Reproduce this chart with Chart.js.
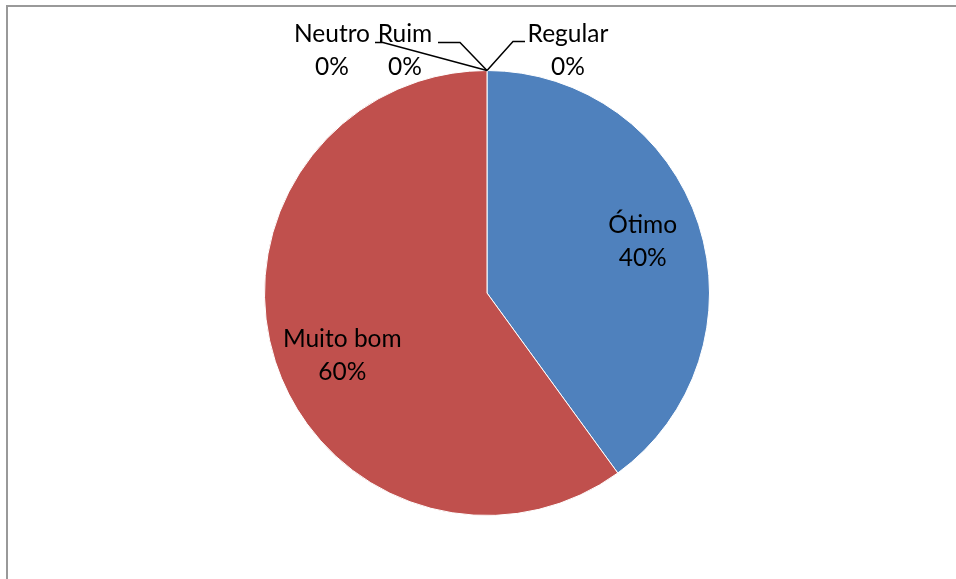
<!DOCTYPE html>
<html>
<head>
<meta charset="utf-8">
<script src="https://cdn.jsdelivr.net/npm/chart.js@4/dist/chart.umd.min.js"></script>
<style>
  html, body { margin: 0; padding: 0; background: #fff; }
  #wrap { position: relative; width: 956px; height: 579px; }
</style>
</head>
<body>
<div id="wrap"><canvas id="chart"></canvas></div>
<script>
// Avaliação dos participantes
const categories = ["Ótimo", "Muito bom", "Regular", "Ruim", "Neutro"];
const percentValues = [40, 60, 0, 0, 0];
const sliceColors = ["#4F81BD", "#C0504D", "#9BBB59", "#8064A2", "#4BACC6"];

const FONT = "Lato, 'Liberation Sans', sans-serif";
const FONT_SIZE = 24.5;
const LINE_GAP = 33;

// label placement: inside slices use the mid-angle, zero slices get a leader line
// elbow / end are offsets from the slice anchor, text is offset from the anchor too
const labelLayout = {
  "Ótimo": { factor: 0.75, nudge: [-3, 0] },
  "Muito bom": { factor: 0.75, nudge: [14, 11] },
  "Regular": { elbow: [26, -29], end: [38, -29], text: [81, -20] },
  "Ruim": { elbow: [-27, -28], end: [-49, -28], text: [-82, -20] },
  "Neutro": { elbow: [-104, -28], end: [-112, -28], text: [-155, -20] },
};

const pieLabels = {
  id: "pieLabels",
  beforeDraw(chart) {
    // frame around the chart
    const ctx = chart.ctx;
    ctx.save();
    ctx.strokeStyle = "#999999";
    ctx.lineWidth = 2;
    ctx.beginPath();
    ctx.moveTo(7, chart.height + 2);
    ctx.lineTo(7, 6);
    ctx.lineTo(chart.width + 2, 6);
    ctx.stroke();
    ctx.restore();
  },
  afterDatasetsDraw(chart) {
    const ctx = chart.ctx;
    const meta = chart.getDatasetMeta(0);
    const data = chart.data.datasets[0].data;
    ctx.save();
    ctx.font = FONT_SIZE + "px " + FONT;
    ctx.fillStyle = "#000";
    ctx.textAlign = "center";
    ctx.textBaseline = "middle";
    meta.data.forEach((arc, i) => {
      const name = chart.data.labels[i];
      const lay = labelLayout[name];
      const pct = data[i] + "%";
      const { x, y, startAngle, endAngle, outerRadius } = arc.getProps(
        ["x", "y", "startAngle", "endAngle", "outerRadius"], true);
      let tx, ty;
      if (data[i] > 0) {
        const mid = (startAngle + endAngle) / 2;
        tx = x + Math.cos(mid) * outerRadius * lay.factor + lay.nudge[0];
        ty = y + Math.sin(mid) * outerRadius * lay.factor + lay.nudge[1];
      } else {
        const ax = x + Math.cos(startAngle) * outerRadius;
        const ay = y + Math.sin(startAngle) * outerRadius;
        ctx.strokeStyle = "#000";
        ctx.lineWidth = 1.5;
        ctx.beginPath();
        ctx.moveTo(ax, ay);
        ctx.lineTo(ax + lay.elbow[0], ay + lay.elbow[1]);
        ctx.lineTo(ax + lay.end[0], ay + lay.end[1]);
        ctx.stroke();
        tx = ax + lay.text[0];
        ty = ay + lay.text[1];
      }
      ctx.fillText(name, tx, ty - LINE_GAP / 2);
      ctx.fillText(pct, tx, ty + LINE_GAP / 2);
    });
    ctx.restore();
  },
};

new Chart(document.getElementById("chart"), {
  type: "pie",
  data: {
    labels: categories,
    datasets: [{
      data: percentValues,
      backgroundColor: sliceColors,
      borderColor: "#ffffff",
      borderWidth: 1,
      hoverOffset: 0,
    }],
  },
  options: {
    responsive: true,
    maintainAspectRatio: false,
    animation: false,
    layout: { padding: { left: 264, right: 246, top: 70, bottom: 63 } },
    plugins: {
      legend: { display: false },
      tooltip: { enabled: false },
    },
  },
  plugins: [pieLabels],
});
</script>
</body>
</html>
